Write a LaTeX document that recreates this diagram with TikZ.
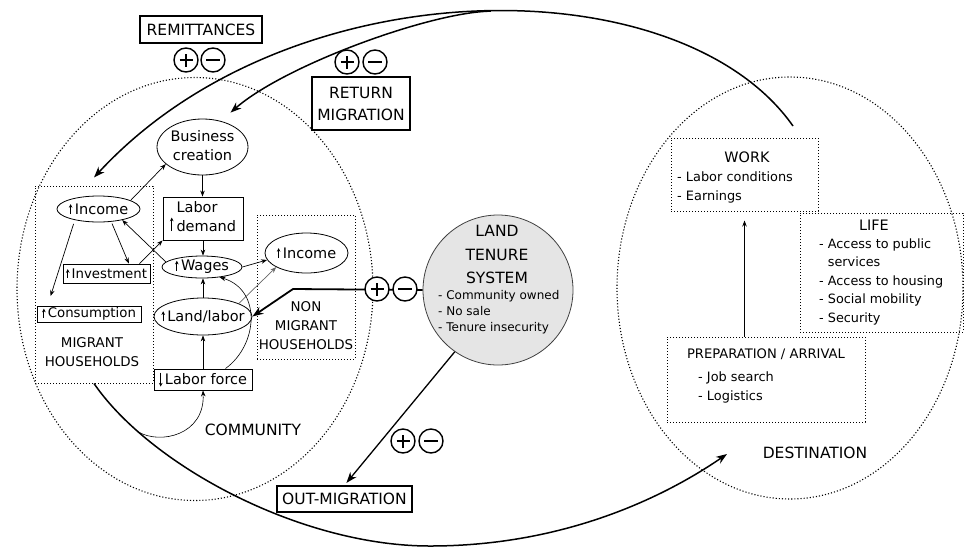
\documentclass[tikz,border=0pt]{standalone}
\usepackage{fontspec}
\setmainfont{DejaVu Sans}
\usetikzlibrary{arrows.meta,calc,shapes.geometric}

% small inline arrows used in front of the variable names
\newcommand\uarr[1][10]{\tikz[baseline=0pt]\draw[line width=0.7pt,solid,-{Stealth[length=3.6pt,width=3.6pt]}] (0pt,0pt) -- (0pt,#1pt);}
\newcommand\darr[1][12]{\tikz[baseline=0pt]\draw[line width=0.7pt,solid,-{Stealth[length=3.6pt,width=3.6pt]}] (0pt,#1pt) -- (0pt,-2pt);}
\newcommand\fsz[2]{\fontsize{#1}{#2}\selectfont}

\begin{document}
\begin{tikzpicture}[x=1pt,y=-1pt,
  lbl/.style={inner sep=0pt, align=center},
  thickbox/.style={draw, line width=2.2pt, inner sep=0pt, align=center, font=\fsz{15.5}{22}},
  ibox/.style={draw, line width=0.9pt, inner sep=0pt, font=\fsz{14.5}{19}},
  iell/.style={draw, ellipse, line width=0.8pt, inner sep=0pt, font=\fsz{14.5}{19}},
  dotbox/.style={draw, dotted, line width=1pt, inner sep=0pt},
  region/.style={draw, dotted, ellipse, line width=1.1pt, inner sep=0pt},
  sign/.style={draw, circle, line width=1.4pt, fill=white, minimum size=24pt, inner sep=0pt},
  signplus/.style={sign, path picture={
      \draw[line width=1.6pt] ([xshift=-6.5pt]path picture bounding box.center) -- ([xshift=6.5pt]path picture bounding box.center)
        ([yshift=-6.5pt]path picture bounding box.center) -- ([yshift=6.5pt]path picture bounding box.center);}},
  signminus/.style={sign, path picture={
      \draw[line width=1.8pt] ([xshift=-7pt]path picture bounding box.center) -- ([xshift=7pt]path picture bounding box.center);}},
  flow/.style={line width=1.5pt, -{Stealth[length=11pt,width=8pt]}},
  link/.style={line width=0.7pt, -{Stealth[length=6pt,width=4.5pt]}},
]
\useasboundingbox (0,0) rectangle (964,547);

% ---- the two places ----
\node[region, minimum width=356pt, minimum height=423pt] (community) at (195,289) {};
\node[region, minimum width=346pt, minimum height=422pt] (destination) at (790,288) {};
\node[lbl, font=\fsz{15.5}{19}] (commtext) at (253,430) {COMMUNITY};
\node[lbl, font=\fsz{15.5}{19}] (desttext) at (815,453) {DESTINATION};

% ---- households ----
\node[dotbox, minimum width=118pt, minimum height=197pt] (mighh) at (94,284.5) {};
\node[dotbox, minimum width=98pt, minimum height=144pt] (nonmighh) at (306,287) {};
\node[lbl, font=\fsz{13.4}{19}] (migtext) at (92,352.5) {MIGRANT\\HOUSEHOLDS};
\node[lbl, font=\fsz{13.4}{19}] (nonmigtext) at (306,326) {NON\\MIGRANT\\HOUSEHOLDS};

% ---- community mechanisms ----
\node[iell, minimum width=91pt, minimum height=56pt] (bc) at (202.5,147)
  {\makebox[0pt]{\begin{tabular}{@{}c@{}}Business\\creation\end{tabular}}};
\node[ibox, minimum width=80pt, minimum height=43pt] (ld) at (203,218.5)
  {\raisebox{-9pt}{\uarr[13.5]}\hspace{3pt}\begin{tabular}[c]{@{}l@{}}Labor\\demand\end{tabular}};
\node[iell, minimum width=80pt, minimum height=22pt] (wages) at (202,267) {\makebox[0pt]{\uarr\,Wages}};
\node[iell, minimum width=83pt, minimum height=26pt] (inc1) at (98.5,209) {\makebox[0pt]{\uarr\,Income}};
\node[ibox, minimum width=87pt, minimum height=19pt, font=\fsz{13.3}{16}] (inv) at (106.5,273.5) {\uarr[9]\,Investment};
\node[ibox, minimum width=104pt, minimum height=16pt, font=\fsz{13.3}{16}] (cons) at (89,314) {\uarr[9]\,Consumption};
\node[iell, minimum width=98pt, minimum height=37pt] (landlab) at (203,316.5) {\makebox[0pt]{\uarr\,Land/labor}};
\node[ibox, minimum width=98pt, minimum height=21pt] (lf) at (203,379.5) {\darr\,Labor force};
\node[iell, minimum width=83pt, minimum height=40pt] (inc2) at (306.5,253) {\makebox[0pt]{\uarr\,Income}};

\draw[link] (bc.south) -- (bc.south |- ld.north);
\draw[link] (ld.south) -- (ld.south |- wages.north);
\draw[link] (landlab.north) -- (landlab.north |- wages.south);
\draw[link] (lf.north) -- (lf.north |- landlab.south);
\draw[link] (inc1.15) -- (bc.205);
\draw[link, shorten <=2pt] (inc1.-45) -- (inv.24);
\draw[link, shorten <=4pt, shorten >=10pt] (inc1.-155) -- ($(cons.north west)+(11,0)$);
\draw[link] ($(inv.north east)+(-11,0)$) -- (ld.south west);
\draw[link] (wages.172) -- (inc1.-25);
\draw[link] (wages.east) -- (inc2.190);
\draw[link, black!60] (landlab.20) -- (inc2.205);
\draw[link, line width=0.6pt] ($(lf.north east)+(-27,0)$) .. controls (258,345) and (262,290) .. (wages.-30);

% ---- flows between community and destination ----
\node[thickbox, minimum width=122pt, minimum height=27pt] (remit) at (201,29.5) {REMITTANCES};
\node[thickbox, minimum width=98pt, minimum height=53pt] (retmig) at (361,103.5) {RETURN\\MIGRATION};
\node[thickbox, line width=1.5pt, minimum width=135pt, minimum height=26pt] (outmig) at (344.5,499) {OUT-MIGRATION};

\coordinate (remsrc) at (793,126);
\coordinate (destarr) at (727,454);
% remittances to the migrant households; return migration branches off towards business creation
\draw[flow] (remsrc) .. controls (680,-35) and (290,-35) .. ($(mighh.north)+(0,-8)$) coordinate[pos=0.48] (remsplit);
\draw[flow] (remsplit) .. controls (431,12) and (285,65) .. ($(bc.north)+(28,-6)$);
\draw[flow] (mighh.south) .. controls (150,465) and (300,546) .. (430,546) coordinate[pos=0.2] (loopstart)
  .. controls (560,546) and (660,500) .. (destarr);
\draw[link, line width=0.6pt] (loopstart) .. controls (160,445) and (205,435) .. (lf.south);

% ---- land tenure system ----
\node[draw=black!75, fill=black!10, circle, line width=0.8pt, minimum size=150pt, inner sep=0pt] (lts) at (498,290) {};
\node[lbl, font=\fsz{15.5}{23.5}] (ltstitle) at (497,254.5) {LAND\\TENURE\\SYSTEM};
\node[lbl, align=left, anchor=west, font=\fsz{12}{16}] (ltsitems) at (438,312.5)
  {- Community owned\\- No sale\\- Tenure insecurity};

\coordinate (kink) at (293,289);
\draw[line width=1.8pt, -{Stealth[length=11pt,width=8pt]}] (lts.west) -- (kink) -- (landlab.east);
\draw[line width=1.3pt, -{Stealth[length=11pt,width=8pt]}, shorten >=3pt] (lts.235) -- (outmig.north);

% ---- positive / negative effects ----
\node[signplus] (remplus) at (186,60) {};
\node[signminus] (remminus) at (213,60) {};
\node[signplus] (retplus) at (347,62) {};
\node[signminus] (retminus) at (375,62) {};
\node[signplus] (ltsplus) at (377,289) {};
\node[signminus] (ltsminus) at (405,289) {};
\node[signplus] (outplus) at (403,441) {};
\node[signminus] (outminus) at (431,441) {};

% ---- destination ----
\node[dotbox, minimum width=147pt, minimum height=73pt] (work) at (744.5,174.5) {};
\node[lbl, font=\fsz{14.4}{19}] (worktitle) at (747,157) {WORK};
\node[lbl, align=left, anchor=west, font=\fsz{12.9}{19}] (workitems) at (677,187.5) {- Labor conditions\\- Earnings};

\node[dotbox, minimum width=163pt, minimum height=119pt] (life) at (881.5,272.5) {};
\node[lbl, font=\fsz{14.4}{19}] (lifetitle) at (874,225) {LIFE};
\node[lbl, align=left, anchor=west, font=\fsz{12.8}{18.5}] (lifeitems) at (819,281.5)
  {- Access to public\\\phantom{- }services\\- Access to housing\\- Social mobility\\- Security};

\node[dotbox, minimum width=198pt, minimum height=85pt] (prep) at (766,379.5) {};
\node[lbl, font=\fsz{13.1}{19}] (preptitle) at (766,354) {PREPARATION / ARRIVAL};
\node[lbl, align=left, anchor=west, font=\fsz{12.9}{19}] (prepitems) at (698,387) {- Job search\\- Logistics};

\draw[link, shorten >=9pt] (work.south |- prep.north) -- (work.south);
\end{tikzpicture}
\end{document}
